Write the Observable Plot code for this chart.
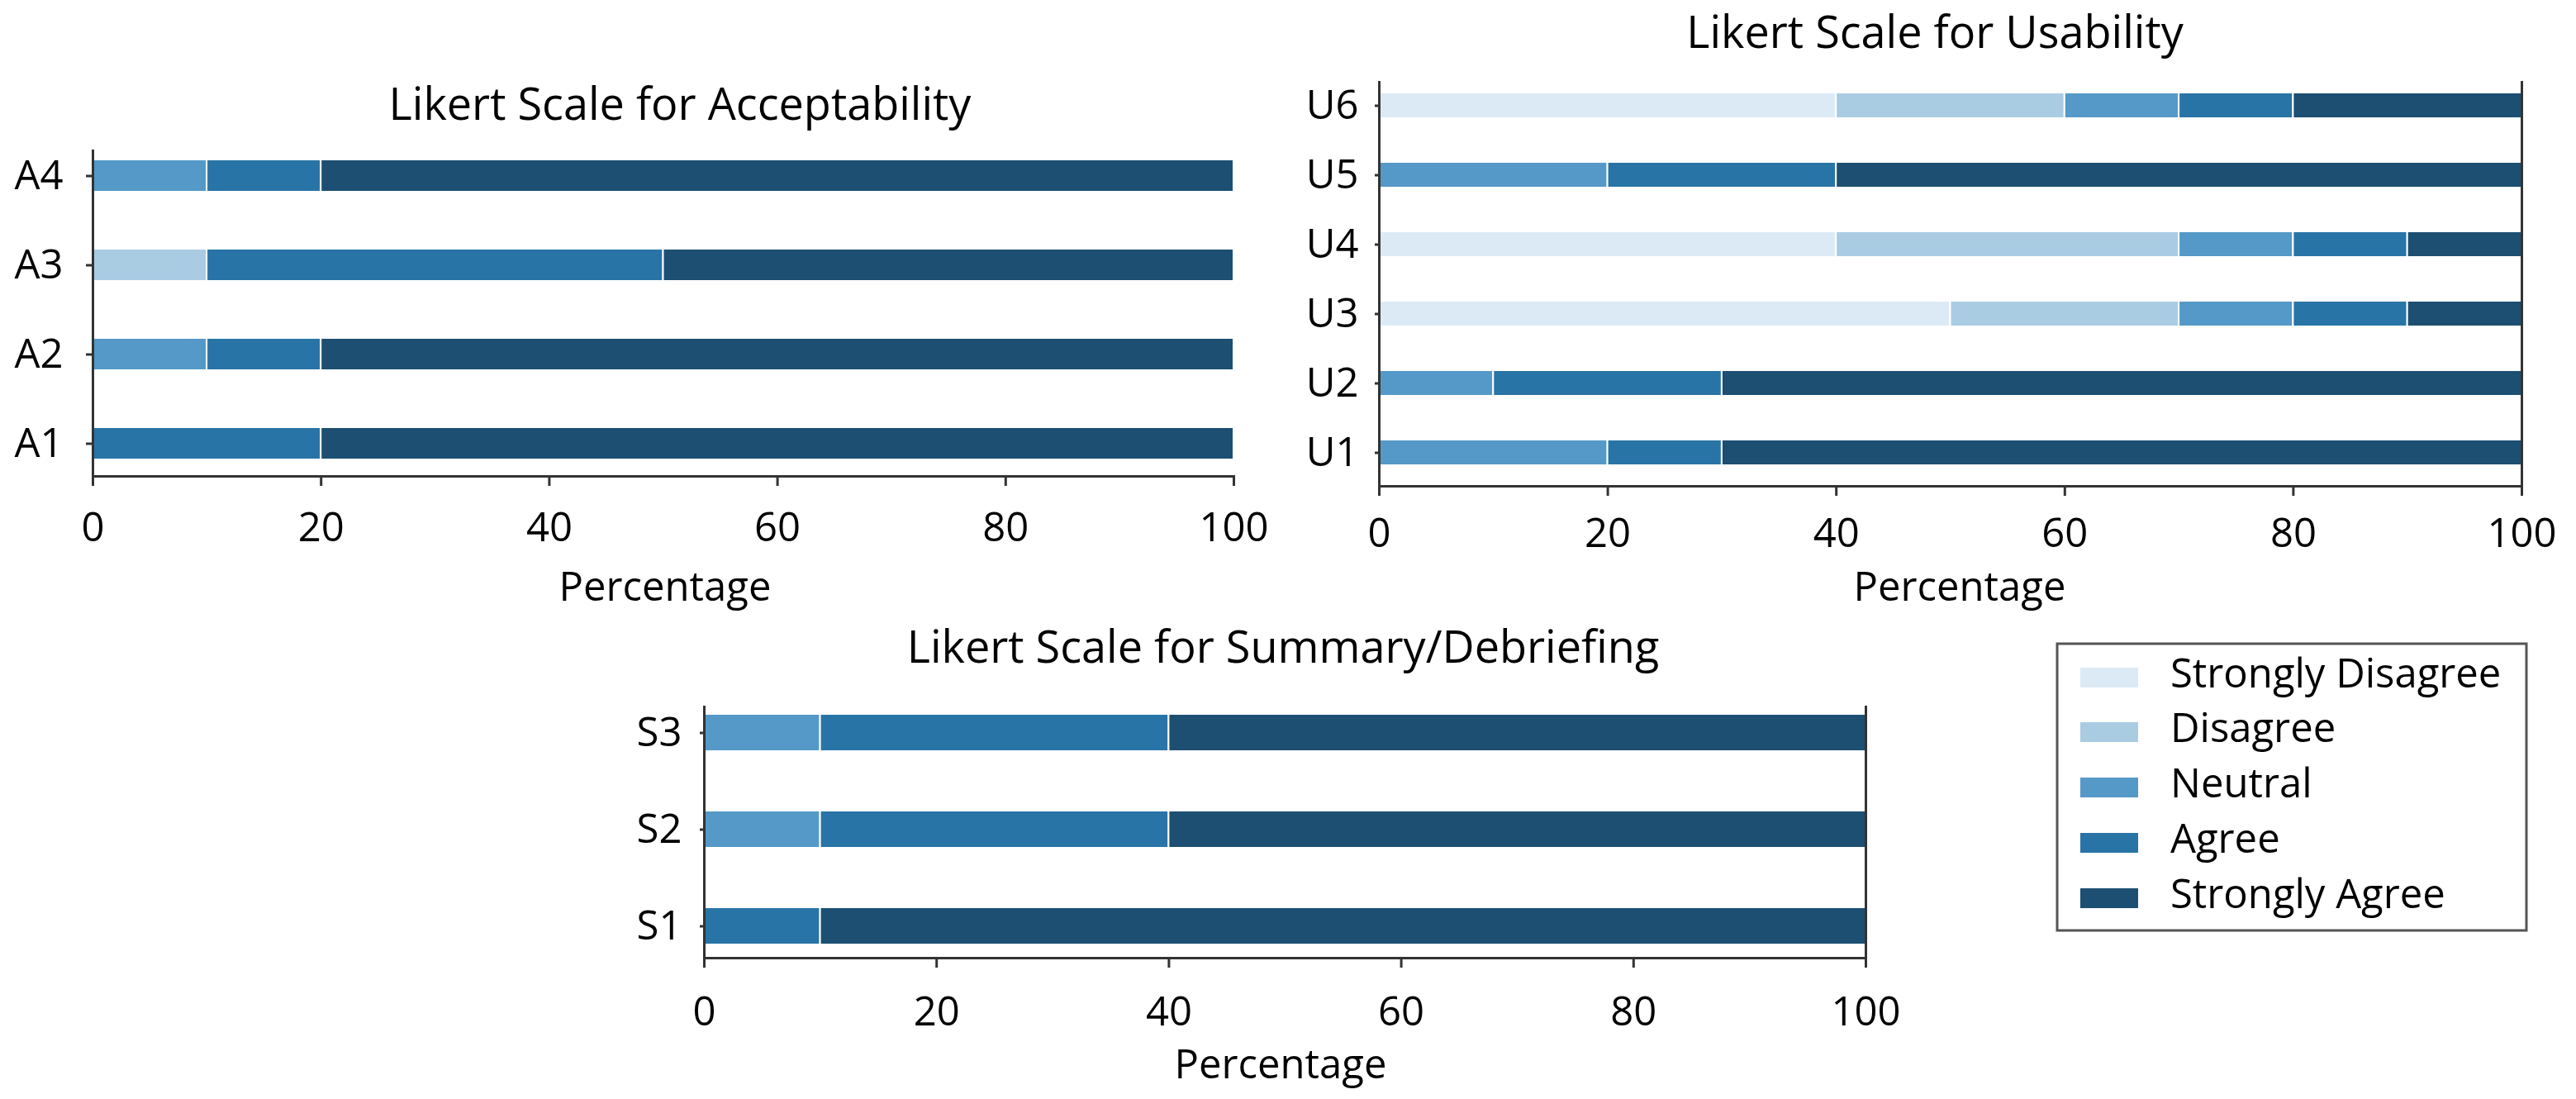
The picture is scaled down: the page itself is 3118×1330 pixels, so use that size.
<!DOCTYPE html>
<html>
<head>
<meta charset="utf-8">
<script src="https://cdn.jsdelivr.net/npm/d3@7"></script>
<script src="https://cdn.jsdelivr.net/npm/@observablehq/plot@0.6"></script>
<style>
  html, body { margin: 0; padding: 0; background: #fff; }
  #page { position: relative; width: 3118px; height: 1330px; overflow: hidden; background: #fff; }
  #page svg { position: absolute; left: 0; top: 0; }
</style>
</head>
<body>
<div id="page"></div>
<script>
// ---------- data ----------
const levels = ["Strongly Disagree", "Disagree", "Neutral", "Agree", "Strongly Agree"];
const xTicks = [0, 20, 40, 60, 80, 100];

const acceptItems = ["A1", "A2", "A3", "A4"];
const acceptStronglyDisagree = [0, 0, 0, 0];
const acceptDisagree = [0, 0, 10, 0];
const acceptNeutral = [0, 10, 0, 10];
const acceptAgree = [20, 10, 40, 10];
const acceptStronglyAgree = [80, 80, 50, 80];

const usabilityItems = ["U1", "U2", "U3", "U4", "U5", "U6"];
const usabilityStronglyDisagree = [0, 0, 50, 40, 0, 40];
const usabilityDisagree = [0, 0, 20, 30, 0, 20];
const usabilityNeutral = [20, 10, 10, 10, 20, 10];
const usabilityAgree = [10, 20, 10, 10, 20, 10];
const usabilityStronglyAgree = [70, 70, 10, 10, 60, 20];

const summaryItems = ["S1", "S2", "S3"];
const summaryStronglyDisagree = [0, 0, 0];
const summaryDisagree = [0, 0, 0];
const summaryNeutral = [0, 10, 10];
const summaryAgree = [10, 30, 30];
const summaryStronglyAgree = [90, 60, 60];

const titles = ["Likert Scale for Acceptability", "Likert Scale for Usability", "Likert Scale for Summary/Debriefing"];
const xLabel = "Percentage";

// ---------- styles ----------
const levelColors = ["#dceaf6", "#a9cce3", "#5499c7", "#2874a6", "#1c4f72"];
const FONT = "'Open Sans', 'DejaVu Sans', sans-serif";
const W = 3118, H = 1330;
const page = document.getElementById("page");

function toRows(items, series) {
  const rows = [];
  items.forEach((q, i) => {
    levels.forEach((lv, j) => {
      const v = series[j][i];
      if (v > 0) rows.push({ q, level: lv, value: v });
    });
  });
  return rows;
}

function panel(items, series, g) {
  const rows = toRows(items, series);
  const step = (g.cBottom - g.cTop) / (items.length - 1);
  const pin = 1 - g.barH / step;
  const marks = [
    Plot.barX(rows, { x: "value", y: "q", fill: "level", order: levels, stroke: "white", strokeWidth: 2 }),
    Plot.ruleX([0], { stroke: "#333", strokeWidth: 3 }),
    Plot.frame({ anchor: "bottom", stroke: "#333", strokeWidth: 3 }),
    Plot.axisX({ ticks: xTicks, tickSize: 12, tickPadding: g.xPad, stroke: "#333", strokeWidth: 3, label: null, fontSize: 49 }),
    Plot.axisY({ tickSize: g.yTick, tickPadding: g.yPad, stroke: "#333", strokeWidth: 3, label: null, fontSize: 49 })
  ];
  if (g.rightSpine) marks.push(Plot.ruleX([100], { stroke: "#333", strokeWidth: 3 }));
  const svg = Plot.plot({
    width: W, height: H,
    marginLeft: g.x0, marginRight: W - g.x100,
    marginTop: g.top, marginBottom: H - g.axis,
    style: `background: transparent; max-width: none; overflow: visible; font-family: ${FONT}; font-size: 49px; color: #000;`,
    x: { domain: [0, 100] },
    y: {
      type: "band",
      domain: items.slice().reverse(),
      range: [g.cTop - step / 2, g.cBottom + step / 2],
      paddingInner: pin, paddingOuter: pin / 2
    },
    color: { domain: levels, range: levelColors },
    marks
  });
  page.appendChild(svg);
}

panel(acceptItems,
  [acceptStronglyDisagree, acceptDisagree, acceptNeutral, acceptAgree, acceptStronglyAgree],
  { x0: 112, x100: 1493, top: 181, axis: 576, cTop: 212, cBottom: 536, barH: 39,
    xPad: 32, yTick: 8, yPad: 28, rightSpine: false });

panel(usabilityItems,
  [usabilityStronglyDisagree, usabilityDisagree, usabilityNeutral, usabilityAgree, usabilityStronglyAgree],
  { x0: 1669, x100: 3052, top: 98, axis: 588, cTop: 125, cBottom: 549, barH: 31,
    xPad: 27, yTick: 5, yPad: 20, rightSpine: true });

panel(summaryItems,
  [summaryStronglyDisagree, summaryDisagree, summaryNeutral, summaryAgree, summaryStronglyAgree],
  { x0: 852, x100: 2258, top: 854, axis: 1159, cTop: 886, cBottom: 1121, barH: 45,
    xPad: 35, yTick: 5, yPad: 22, rightSpine: true });

// ---------- titles, axis labels, legend ----------
const ov = d3.create("svg")
  .attr("width", W).attr("height", H)
  .attr("style", `background: transparent; font-family: ${FONT};`);

const titlePos = [[823, 145], [2342, 58], [1553, 802]];
titles.forEach((t, i) => {
  ov.append("text").attr("x", titlePos[i][0]).attr("y", titlePos[i][1])
    .attr("text-anchor", "middle").attr("font-size", 54).attr("fill", "#000").text(t);
});
const labelPos = [[805, 727], [2372, 727], [1550, 1305]];
labelPos.forEach(p => {
  ov.append("text").attr("x", p[0]).attr("y", p[1])
    .attr("text-anchor", "middle").attr("font-size", 49).attr("fill", "#000").text(xLabel);
});

// legend
ov.append("rect").attr("x", 2490).attr("y", 779).attr("width", 568).attr("height", 347)
  .attr("fill", "white").attr("stroke", "#555").attr("stroke-width", 3);
const legY = [820, 886, 953, 1020, 1087];
levels.forEach((lv, i) => {
  ov.append("rect").attr("x", 2518).attr("y", legY[i] - 12).attr("width", 70).attr("height", 24)
    .attr("fill", levelColors[i]);
  ov.append("text").attr("x", 2627).attr("y", legY[i] + 12)
    .attr("font-size", 49).attr("fill", "#000").text(lv);
});
page.appendChild(ov.node());
</script>
</body>
</html>
